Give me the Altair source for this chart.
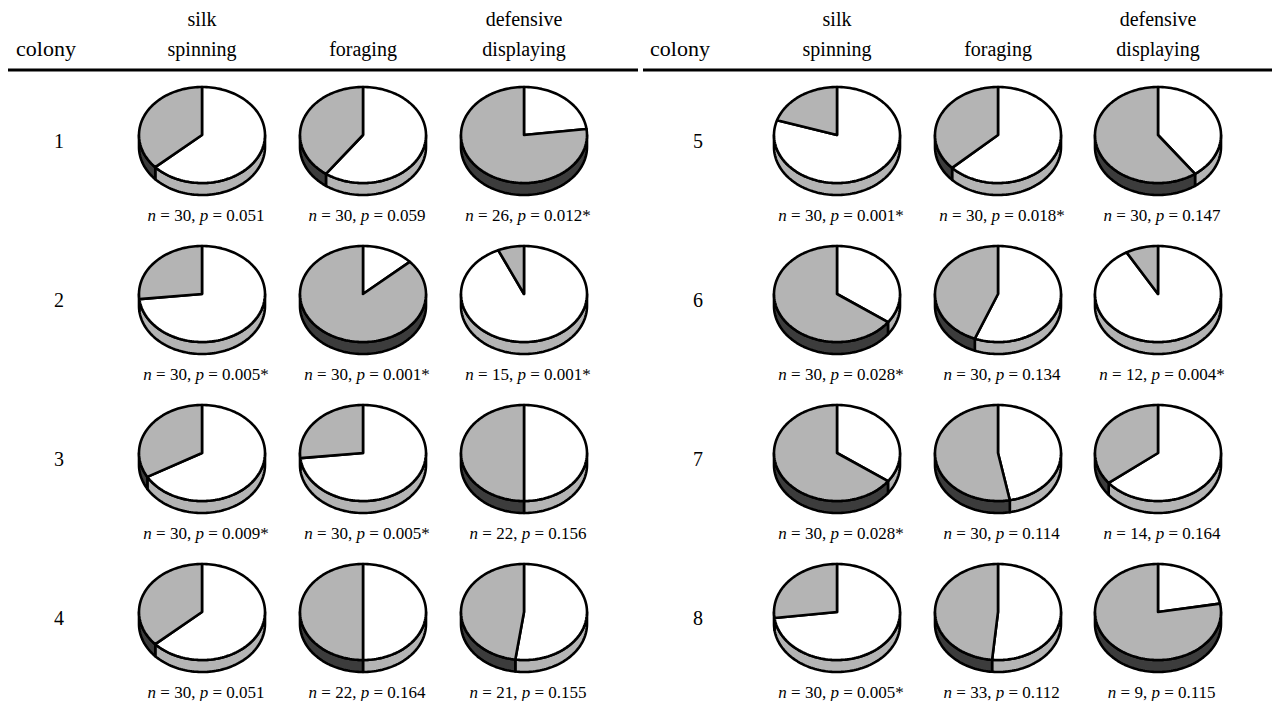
import altair as alt
import pandas as pd
import numpy as np

# ---------------- data ----------------
colonies = [1, 2, 3, 4, 5, 6, 7, 8]
task_lines = [["silk", "spinning"], ["", "foraging"], ["defensive", "displaying"]]

# share of the grey slice (drawn counter-clockwise from 12 o'clock)
grey_silk = [0.367, 0.267, 0.333, 0.367, 0.200, 0.650, 0.650, 0.270]
grey_forage = [0.400, 0.867, 0.267, 0.500, 0.370, 0.440, 0.530, 0.485]
grey_defend = [0.770, 0.067, 0.500, 0.478, 0.600, 0.083, 0.357, 0.778]

n_silk = [30, 30, 30, 30, 30, 30, 30, 30]
n_forage = [30, 30, 30, 22, 30, 30, 30, 33]
n_defend = [26, 15, 22, 21, 30, 12, 14, 9]
p_silk = ["0.051", "0.005*", "0.009*", "0.051", "0.001*", "0.028*", "0.028*", "0.005*"]
p_forage = ["0.059", "0.001*", "0.005*", "0.164", "0.018*", "0.134", "0.114", "0.112"]
p_defend = ["0.012*", "0.001*", "0.156", "0.155", "0.147", "0.004*", "0.164", "0.115"]

# ---------------- layout / style ----------------
W, H = 1264, 693
FONT = "Liberation Serif"
GREY = "#b4b4b4"
DARK = "#3c3c3c"
block_pie_x = [[202, 363, 524], [837, 998, 1158]]
block_label_x = [59, 698]
block_colony_x = [46, 680]
row_y0, row_dy = 135, 159
A, B, DEPTH = 63, 48, 12
STEP = 2.0

grey_all = [grey_silk, grey_forage, grey_defend]
n_all = [n_silk, n_forage, n_defend]
p_all = [p_silk, p_forage, p_defend]


def pt(cx, cy, th, dy=0.0):
    r = np.radians(th)
    return cx + A * np.sin(r), cy - B * np.cos(r) + dy


def arc(t1, t2):
    k = max(2, int(abs(t2 - t1) / STEP) + 1)
    return np.linspace(t1, t2, k)


polys = []  # rows: pid, kind, k, x, y
pid = 0


def add_poly(kind, pts):
    global pid
    pts = list(pts) + [pts[0]]
    for k, (x, y) in enumerate(pts):
        polys.append(dict(pid=pid, kind=kind, k=k, x=x, y=y))
    pid += 1


texts_norm, texts_ital = [], []

# Times-compatible advance widths (em/1000)
ADV = {" ": 250, "=": 564, ",": 250, ".": 250, "*": 500}
for d in "0123456789":
    ADV[d] = 500
ADV["n"] = 500
ADV["p"] = 500


def tw(s, size):
    return sum(ADV.get(c, 500) for c in s) * size / 1000.0


STAT_SIZE = 17
SP = tw(" ", STAT_SIZE)

for ci, col in enumerate(colonies):
    blk = 0 if ci < 4 else 1
    r = ci % 4
    cy = row_y0 + row_dy * r
    for t in range(3):
        cx = block_pie_x[blk][t]
        g = grey_all[t][ci]
        tg = 360.0 * (1.0 - g)  # white: [0, tg], grey: [tg, 360]
        lo, hi = 90.0, 270.0
        if tg > lo:
            e = min(hi, tg)
            top = [pt(cx, cy, th) for th in arc(lo, e)]
            bot = [pt(cx, cy, th, DEPTH) for th in arc(e, lo)]
            add_poly("side_light", top + bot)
        if tg < hi:
            s = max(lo, tg)
            top = [pt(cx, cy, th) for th in arc(s, hi)]
            bot = [pt(cx, cy, th, DEPTH) for th in arc(hi, s)]
            add_poly("side_dark", top + bot)
        if tg > 0:
            add_poly("top_white", [(cx, cy)] + [pt(cx, cy, th) for th in arc(0, tg)])
        if tg < 360:
            add_poly("top_grey", [(cx, cy)] + [pt(cx, cy, th) for th in arc(tg, 360)])
        # tokens of "n = 30, p = 0.051" (spaces become gaps between tokens)
        tokens = [("n", True), ("=", False), (f"{n_all[t][ci]},", False), ("p", True),
                  ("=", False), (p_all[t][ci], False)]
        total = sum(tw(s, STAT_SIZE) for s, _ in tokens) + SP * (len(tokens) - 1)
        x0 = cx + 4 - total / 2
        for s, it in tokens:
            (texts_ital if it else texts_norm).append(dict(x=x0, y=cy + 86, text=s))
            x0 += tw(s, STAT_SIZE) + SP

poly_df = pd.DataFrame(polys)

headers = []
colony_head = []
for blk in range(2):
    colony_head.append(dict(x=block_colony_x[blk], y=56, text="colony"))
    for t in range(3):
        l1, l2 = task_lines[t]
        if l1:
            headers.append(dict(x=block_pie_x[blk][t], y=26, text=l1))
        headers.append(dict(x=block_pie_x[blk][t], y=56, text=l2))
head_df = pd.DataFrame(headers)
colony_df = pd.DataFrame(colony_head)

num_df = pd.DataFrame([dict(x=block_label_x[0 if i < 4 else 1], y=row_y0 + row_dy * (i % 4) + 13, text=str(c))
                       for i, c in enumerate(colonies)])
rule_df = pd.DataFrame([dict(x=8, x2=638, y=70), dict(x=643, x2=1276, y=70)])

xs = alt.Scale(domain=[8, 8 + W], nice=False, zero=False)
ys = alt.Scale(domain=[8, 8 + H], reverse=True, nice=False, zero=False)
X = alt.X("x:Q", scale=xs, axis=None)
Y = alt.Y("y:Q", scale=ys, axis=None)

layers = []
for kind, color in [("side_light", GREY), ("side_dark", DARK), ("top_white", "white"), ("top_grey", GREY)]:
    layers.append(
        alt.Chart(poly_df[poly_df.kind == kind]).mark_line(
            fill=color, stroke="black", strokeWidth=2.6, strokeJoin="round", strokeCap="round"
        ).encode(x=X, y=Y, detail="pid:N", order="k:Q")
    )

layers.append(alt.Chart(rule_df).mark_rule(color="black", strokeWidth=3).encode(x=X, x2="x2:Q", y=Y))
layers.append(alt.Chart(head_df).mark_text(font=FONT, fontSize=20, align="center", baseline="alphabetic", color="black")
              .encode(x=X, y=Y, text="text:N"))
layers.append(alt.Chart(colony_df).mark_text(font=FONT, fontSize=22, align="center", baseline="alphabetic",
                                             color="black")
              .encode(x=X, y=Y, text="text:N"))
layers.append(alt.Chart(num_df).mark_text(font=FONT, fontSize=20, align="center", baseline="alphabetic", color="black")
              .encode(x=X, y=Y, text="text:N"))
layers.append(alt.Chart(pd.DataFrame(texts_norm)).mark_text(font=FONT, fontSize=STAT_SIZE, align="left",
                                                            baseline="alphabetic", color="black")
              .encode(x=X, y=Y, text="text:N"))
layers.append(alt.Chart(pd.DataFrame(texts_ital)).mark_text(font=FONT, fontSize=STAT_SIZE, fontStyle="italic",
                                                            align="left", baseline="alphabetic", color="black")
              .encode(x=X, y=Y, text="text:N"))

chart = alt.layer(*layers).properties(
    width=W, height=H, padding=0, autosize=alt.AutoSizeParams(type="none")
).configure_view(stroke=None)

chart.save("out.html", embed_options={"renderer": "svg", "actions": False})
